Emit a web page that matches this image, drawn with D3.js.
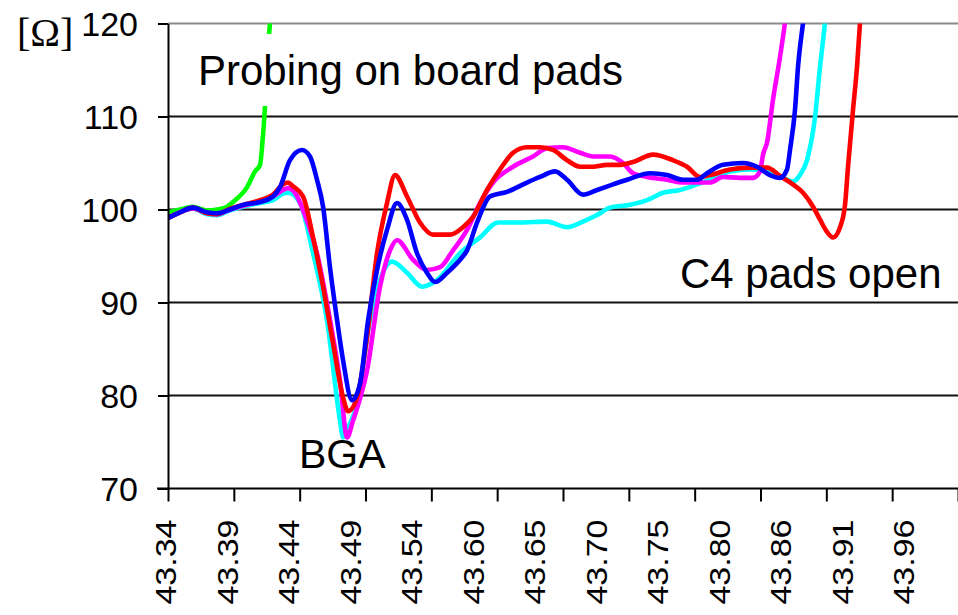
<!DOCTYPE html>
<html>
<head>
<meta charset="utf-8">
<script src="https://cdn.jsdelivr.net/npm/d3@7"></script>
<style>
  html, body { margin: 0; padding: 0; background: #fff; overflow: hidden; }
  text { font-family: "Liberation Sans", Arial, sans-serif; fill: #000; }
</style>
</head>
<body>
<svg id="chart" width="958" height="615"></svg>
<script>
// Category labels along the time axis (ns)
const tickLabels = ["43.34", "43.39", "43.44", "43.49", "43.54", "43.60", "43.65",
                    "43.70", "43.75", "43.80", "43.86", "43.91", "43.96"];
const labelStart = 43.338;   // time of the first label
const labelStep = 0.05172;   // time between labels

// Impedance axis ticks (Ω)
const yTicks = [70, 80, 90, 100, 110, 120];

// TDR traces: [time ns, impedance Ω]
const traceGreen = [
  [43.3405, 99.7], [43.3506, 100.0], [43.3615, 100.3], [43.3733, 99.9], [43.3817, 100.0],
  [43.3902, 100.3], [43.3952, 100.8], [43.4070, 102.4], [43.4137, 104.1], [43.4179, 104.8],
  [43.4204, 108.0], [43.4221, 111.1], [43.4238, 116.1], [43.4263, 120.1], [43.4280, 123.7]
];

const traceCyan = [
  [43.3405, 99.1], [43.3506, 99.7], [43.3615, 100.1], [43.3733, 99.5], [43.3817, 99.4],
  [43.3927, 99.9], [43.4036, 100.3], [43.4179, 100.7], [43.4288, 101.0], [43.4372, 101.7],
  [43.4414, 101.8], [43.4515, 100.7], [43.4625, 95.3], [43.4742, 88.1], [43.4852, 77.3],
  [43.4877, 75.5], [43.4919, 76.5], [43.4995, 79.2], [43.5104, 88.1], [43.5188, 92.4],
  [43.5289, 94.4], [43.5415, 93.2], [43.5541, 91.7], [43.5667, 92.4], [43.5861, 95.3],
  [43.6029, 97.0], [43.6181, 98.6], [43.6366, 98.6], [43.6593, 98.7], [43.6761, 98.1],
  [43.6895, 98.7], [43.7013, 99.4], [43.7122, 100.2], [43.7291, 100.5], [43.7434, 101.0],
  [43.7568, 101.8], [43.7711, 102.1], [43.7854, 102.7], [43.7963, 103.2], [43.8132, 104.1],
  [43.8300, 104.3], [43.8443, 104.1], [43.8577, 103.4], [43.8661, 103.0], [43.8720, 103.7],
  [43.8779, 105.3], [43.8847, 110.0], [43.8889, 115.4], [43.8931, 120.1], [43.8964, 124.2]
];

const traceMagenta = [
  [43.3405, 99.1], [43.3506, 99.7], [43.3615, 100.1], [43.3733, 99.6], [43.3817, 99.5],
  [43.3927, 100.0], [43.4036, 100.4], [43.4179, 100.9], [43.4288, 101.4], [43.4372, 102.1],
  [43.4414, 102.3], [43.4473, 101.8], [43.4557, 99.4], [43.4658, 95.3], [43.4768, 88.1],
  [43.4852, 81.6], [43.4911, 75.5], [43.4961, 77.3], [43.5079, 82.7], [43.5188, 91.7],
  [43.5272, 95.6], [43.5331, 96.7], [43.5466, 94.6], [43.5583, 93.5], [43.5693, 93.8],
  [43.5802, 95.6], [43.5920, 97.8], [43.6029, 100.7], [43.6139, 102.9], [43.6307, 104.6],
  [43.6475, 105.7], [43.6593, 106.6], [43.6727, 106.7], [43.6870, 106.1], [43.6979, 105.7],
  [43.7122, 105.7], [43.7232, 105.0], [43.7316, 103.9], [43.7434, 103.5], [43.7602, 103.2],
  [43.7736, 102.9], [43.7854, 102.9], [43.7963, 102.9], [43.8073, 103.5], [43.8216, 103.4],
  [43.8325, 103.4], [43.8384, 104.1], [43.8409, 105.9], [43.8443, 107.2], [43.8493, 111.8],
  [43.8552, 116.4], [43.8594, 120.1], [43.8628, 123.7]
];

const traceRed = [
  [43.3405, 99.1], [43.3506, 99.7], [43.3615, 100.2], [43.3733, 99.6], [43.3817, 99.5],
  [43.3927, 100.1], [43.4036, 100.5], [43.4179, 101.0], [43.4288, 101.6], [43.4372, 102.7],
  [43.4414, 102.9], [43.4456, 102.5], [43.4541, 101.4], [43.4625, 97.0], [43.4709, 91.7],
  [43.4793, 85.6], [43.4877, 79.8], [43.4919, 78.3], [43.4995, 79.8], [43.5079, 86.3],
  [43.5163, 95.3], [43.5247, 100.7], [43.5314, 103.7], [43.5415, 101.4], [43.5524, 98.6],
  [43.5634, 97.3], [43.5777, 97.3], [43.5886, 98.1], [43.5970, 99.2], [43.6088, 102.1],
  [43.6197, 104.3], [43.6307, 106.1], [43.6424, 106.7], [43.6534, 106.7], [43.6643, 106.4],
  [43.6761, 105.3], [43.6870, 104.6], [43.6979, 104.6], [43.7097, 104.8], [43.7207, 104.8],
  [43.7316, 105.1], [43.7484, 105.9], [43.7652, 105.3], [43.7770, 104.6], [43.7879, 103.5],
  [43.7963, 103.7], [43.8132, 104.3], [43.8300, 104.5], [43.8443, 104.5], [43.8552, 103.6],
  [43.8661, 102.7], [43.8746, 101.8], [43.8830, 100.3], [43.8889, 98.9], [43.8947, 97.6],
  [43.8998, 97.0], [43.9057, 98.1], [43.9099, 100.5], [43.9124, 104.6], [43.9166, 110.7],
  [43.9200, 115.4], [43.9225, 120.1], [43.9259, 124.7]
];

const traceBlue = [
  [43.3405, 99.1], [43.3506, 99.7], [43.3615, 100.2], [43.3733, 99.7], [43.3817, 99.6],
  [43.3927, 100.0], [43.4036, 100.5], [43.4179, 100.8], [43.4288, 101.4], [43.4347, 102.4],
  [43.4431, 105.3], [43.4532, 106.4], [43.4599, 105.7], [43.4658, 103.2], [43.4709, 100.3],
  [43.4768, 93.7], [43.4827, 88.1], [43.4877, 83.8], [43.4953, 79.5], [43.5020, 81.3],
  [43.5088, 88.1], [43.5163, 93.5], [43.5247, 97.8], [43.5331, 100.7], [43.5415, 98.9],
  [43.5499, 95.3], [43.5583, 93.2], [43.5651, 92.2], [43.5752, 93.2], [43.5861, 94.6],
  [43.5920, 95.6], [43.6004, 98.6], [43.6113, 101.4], [43.6256, 101.9], [43.6424, 102.9],
  [43.6534, 103.5], [43.6660, 104.1], [43.6761, 103.2], [43.6895, 101.6], [43.7013, 102.1],
  [43.7148, 102.7], [43.7265, 103.2], [43.7459, 103.9], [43.7602, 103.7], [43.7736, 103.2],
  [43.7854, 103.2], [43.7938, 103.9], [43.8073, 104.8], [43.8241, 105.0], [43.8359, 104.6],
  [43.8468, 103.7], [43.8552, 103.4], [43.8611, 104.3], [43.8636, 106.4], [43.8678, 110.7],
  [43.8704, 115.4], [43.8746, 120.1], [43.8788, 124.7]
];

// Drawing order: later traces sit on top
const traces = [
  { data: traceGreen, color: "#00ff00" },
  { data: traceCyan, color: "#00ffff" },
  { data: traceMagenta, color: "#ff00ff" },
  { data: traceRed, color: "#ff0000" },
  { data: traceBlue, color: "#0000ff" }
];

const svg = d3.select("#chart");
const plot = { left: 168, right: 958, top: 23.5, bottom: 488.5 };

const x = d3.scaleLinear().domain([43.3405, 44.0049]).range([plot.left, plot.right]);
const y = d3.scaleLinear().domain([70, 120]).range([plot.bottom, plot.top]);

// Horizontal gridlines
svg.append("g")
  .selectAll("line")
  .data(yTicks.filter(v => v > 70))
  .join("line")
  .attr("x1", plot.left).attr("x2", plot.right)
  .attr("y1", d => y(d)).attr("y2", d => y(d))
  .attr("stroke", d => d === 120 ? "#8a8a8a" : "#111")
  .attr("stroke-width", 1.8);

// Traces, clipped to the plot area
svg.append("clipPath").attr("id", "plot-clip")
  .append("rect")
  .attr("x", plot.left).attr("y", plot.top)
  .attr("width", plot.right - plot.left).attr("height", plot.bottom - plot.top);

const line = d3.line()
  .x(d => x(d[0]))
  .y(d => y(d[1]))
  .curve(d3.curveMonotoneX);

svg.append("g").attr("clip-path", "url(#plot-clip)")
  .selectAll("path")
  .data(traces)
  .join("path")
  .attr("d", d => line(d.data))
  .attr("fill", "none")
  .attr("stroke", d => d.color)
  .attr("stroke-width", 4.6)
  .attr("stroke-linejoin", "round")
  .attr("stroke-linecap", "round");

// Y axis
const yAxis = svg.append("g")
  .attr("transform", `translate(${plot.left},0)`)
  .call(d3.axisLeft(y).tickValues(yTicks).tickSize(10).tickSizeOuter(0).tickPadding(20));
yAxis.selectAll("path, line").attr("stroke", "#000").attr("stroke-width", 2);
yAxis.selectAll("text")
  .style("font-size", "34px")
  .attr("dy", "0.36em");

// X axis: tick marks at even intervals across the plot
const [t0, t1] = x.domain();
const markTimes = d3.range(13).map(i => t0 + i * (t1 - t0) / 12);
const xAxis = svg.append("g")
  .attr("transform", `translate(0,${plot.bottom})`)
  .call(d3.axisBottom(x).tickValues(markTimes).tickSize(13).tickSizeOuter(0).tickFormat(""));
xAxis.select(".domain").attr("d", `M${plot.left - 11},0H${plot.right}`);
xAxis.selectAll("path, line").attr("stroke", "#000").attr("stroke-width", 2);

// X axis labels, rotated
const labelTimes = tickLabels.map((_, i) => labelStart + i * labelStep);
const xLabels = svg.append("g")
  .attr("transform", `translate(0,${plot.bottom})`)
  .call(d3.axisBottom(x).tickValues(labelTimes).tickSize(0)
    .tickFormat((d, i) => tickLabels[i]));
xLabels.select(".domain").remove();
xLabels.selectAll("text")
  .attr("x", 0).attr("y", 0).attr("dy", "0.36em")
  .attr("text-anchor", "end")
  .attr("transform", "translate(0,31) rotate(-90) scale(1,0.86)")
  .style("font-size", "34px");

// Unit label
svg.append("text")
  .attr("x", 17).attr("y", 46)
  .style("font-family", "'Liberation Serif', 'Times New Roman', serif")
  .style("font-size", "40px")
  .text("[Ω]");

// Annotations
svg.append("rect")
  .attr("x", 190).attr("y", 34).attr("width", 450).attr("height", 72)
  .attr("fill", "#fff");
svg.append("text")
  .attr("x", 198).attr("y", 85)
  .style("font-size", "42px")
  .text("Probing on board pads");

svg.append("text")
  .attr("x", 680).attr("y", 288)
  .style("font-size", "42px")
  .text("C4 pads open");

svg.append("text")
  .attr("x", 299).attr("y", 468)
  .style("font-size", "41px")
  .text("BGA");
</script>
</body>
</html>
